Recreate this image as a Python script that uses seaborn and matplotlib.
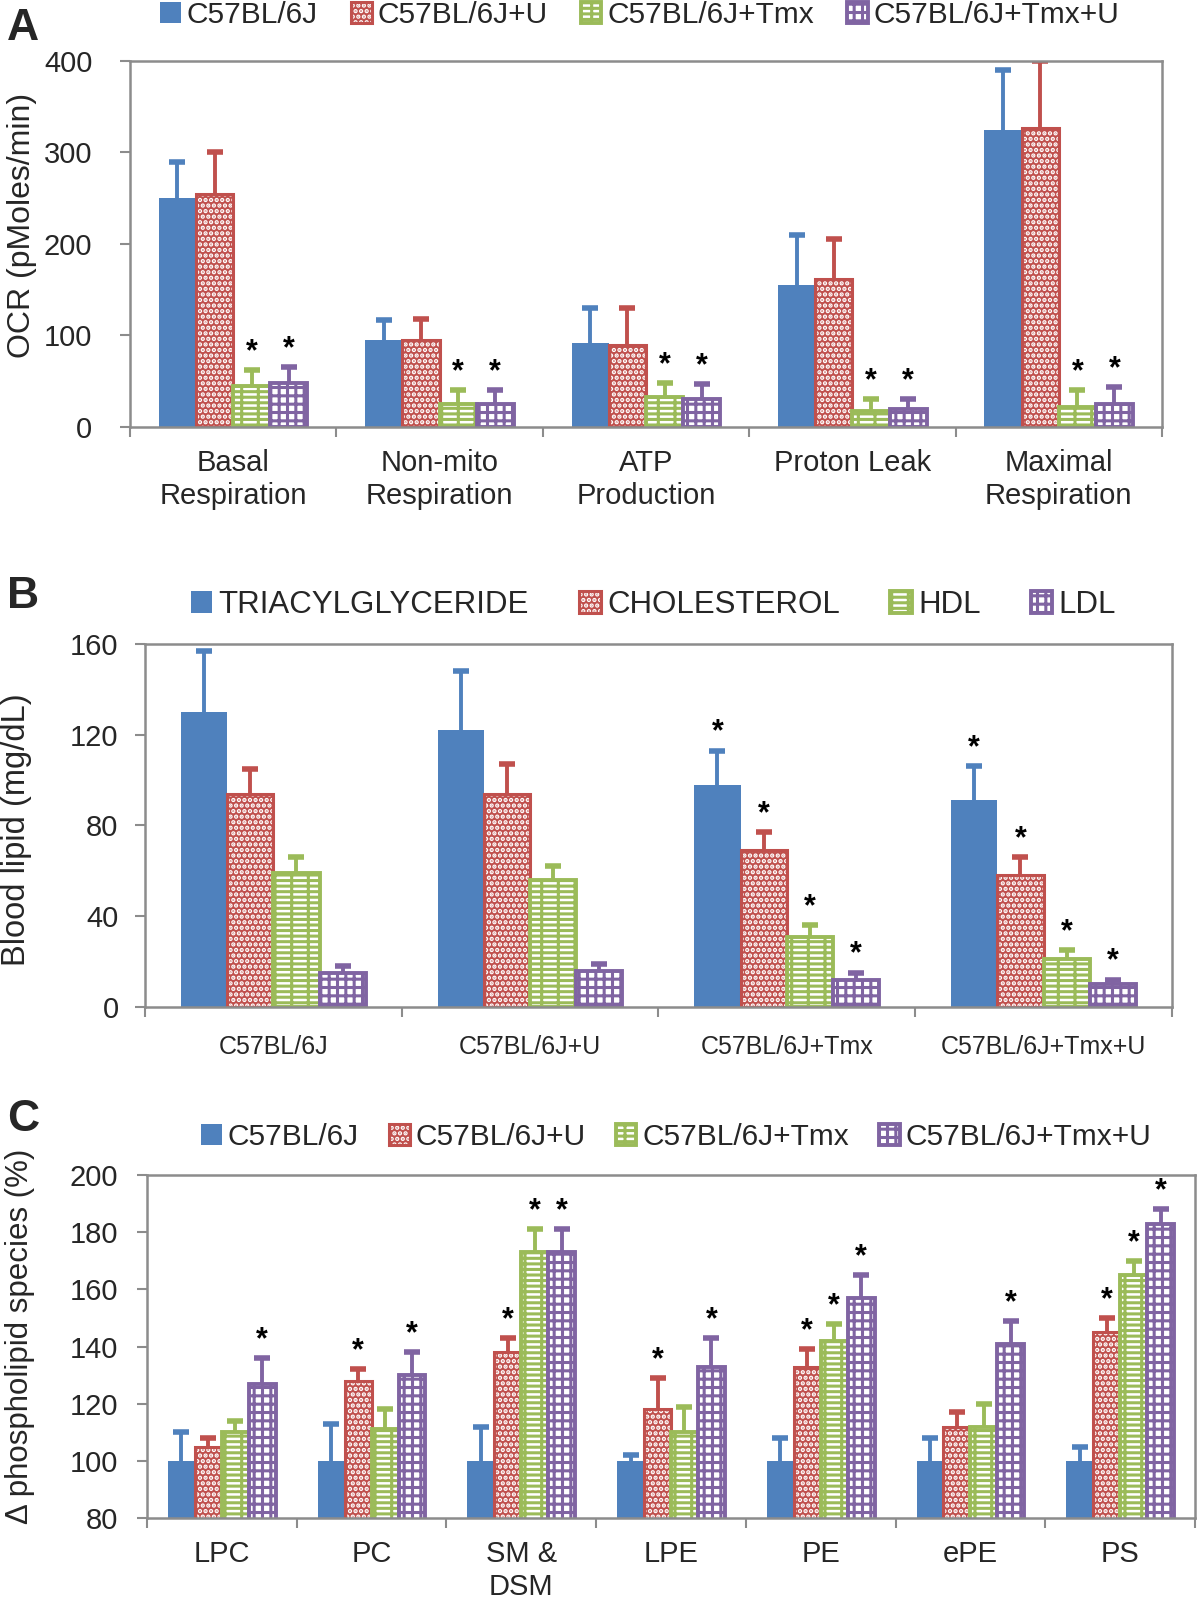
import numpy as np
import pandas as pd
import matplotlib
matplotlib.use('Agg')
import matplotlib.pyplot as plt
import matplotlib.colors as mcolors
from matplotlib.container import BarContainer
import seaborn as sns

sns.set_style('white')
plt.rcParams['font.family'] = ['Liberation Sans', 'DejaVu Sans']
plt.rcParams['hatch.linewidth'] = 2.2

# colours (Excel 2007 palette)
BLUE = '#4F81BD'
RED = '#C0504D'
GREEN = '#9BBB59'
PURPLE = '#8064A2'

groups = ['C57BL/6J', 'C57BL/6J+U', 'C57BL/6J+Tmx', 'C57BL/6J+Tmx+U']

# Panel A - OCR
a_cats = ['Basal\nRespiration', 'Non-mito\nRespiration', 'ATP\nProduction', 'Proton Leak', 'Maximal\nRespiration']
a_b6 = [250, 95, 92, 155, 325]
a_b6_sd = [40, 22, 38, 55, 65]
a_u = [255, 95, 90, 162, 327]
a_u_sd = [45, 23, 40, 43, 73]
a_tmx = [45, 25, 33, 17, 22]
a_tmx_sd = [17, 15, 15, 13, 18]
a_tmxu = [48, 25, 30, 20, 25]
a_tmxu_sd = [17, 15, 17, 11, 19]
a_sig = [[0, 0, 0, 0, 0], [0, 0, 0, 0, 0], [1, 1, 1, 1, 1], [1, 1, 1, 1, 1]]

# Panel B - blood lipids
lipids = ['TRIACYLGLYCERIDE', 'CHOLESTEROL', 'HDL', 'LDL']
b_tag = [130, 122, 98, 91]
b_tag_sd = [27, 26, 15, 15]
b_chol = [94, 94, 69, 58]
b_chol_sd = [11, 13, 8, 8]
b_hdl = [59, 56, 31, 21]
b_hdl_sd = [7, 6, 5, 4]
b_ldl = [15, 16, 12, 10]
b_ldl_sd = [3, 3, 3, 2]
b_sig = [[0, 0, 1, 1], [0, 0, 1, 1], [0, 0, 1, 1], [0, 0, 1, 1]]

# Panel C - phospholipid species
c_cats = ['LPC', 'PC', 'SM &\nDSM', 'LPE', 'PE', 'ePE', 'PS']
c_b6 = [100, 100, 100, 100, 100, 100, 100]
c_b6_sd = [10, 13, 12, 2, 8, 8, 5]
c_u = [105, 128, 138, 118, 133, 112, 145]
c_u_sd = [3, 4, 5, 11, 6, 5, 5]
c_tmx = [110, 111, 173, 110, 142, 112, 165]
c_tmx_sd = [4, 7, 8, 9, 6, 8, 5]
c_tmxu = [127, 130, 173, 133, 157, 141, 183]
c_tmxu_sd = [9, 8, 8, 10, 8, 8, 5]
c_sig = [[0, 0, 0, 0, 0, 0, 0], [0, 1, 1, 1, 1, 0, 1], [0, 0, 1, 0, 1, 0, 1], [1, 1, 1, 1, 1, 1, 1]]


def long_df(cats, series, names):
    rows = []
    for name, vals in zip(names, series):
        for c, v in zip(cats, vals):
            rows.append({'cat': c, 'series': name, 'val': v})
    return pd.DataFrame(rows)


def bars_of(ax):
    return [c for c in ax.containers if isinstance(c, BarContainer)]


def style_bars(ax):
    for j, cont in enumerate(bars_of(ax)):
        for p in cont.patches:
            if j == 0:
                p.set_facecolor(BLUE)
                p.set_edgecolor(BLUE)
                p.set_linewidth(0)
            elif j == 1:
                p.set_facecolor(RED)
                p.set_edgecolor(RED)
                p.set_linewidth(2.2)
                p.set_hatch('...')
                p._hatch_color = mcolors.to_rgba('white')
            elif j == 2:
                p.set_facecolor('white')
                p.set_edgecolor(GREEN)
                p.set_linewidth(2.8)
                p.set_hatch('---|')
            else:
                p.set_facecolor('white')
                p.set_edgecolor(PURPLE)
                p.set_linewidth(2.8)
                p.set_hatch('++')


def add_errors(ax, sds, sigs, star_pad):
    cols = [BLUE, RED, GREEN, PURPLE]
    for j, cont in enumerate(bars_of(ax)):
        for i, p in enumerate(cont.patches):
            x = p.get_x() + p.get_width() / 2
            h = p.get_height()
            _, caps, _ = ax.errorbar(x, h, yerr=[[0], [sds[j][i]]], fmt='none', ecolor=cols[j],
                                     elinewidth=2.8, capsize=6, capthick=4, zorder=1)
            caps[0].set_visible(False)
            if sigs[j][i]:
                ax.text(x, h + sds[j][i] + star_pad, '*', ha='center', va='bottom',
                        fontsize=22, fontweight='bold', color='black')


def frame(ax, ncat, ymin, ymax, step, ylabel, yl_fs, yl_xy, ypad, xpad, names, leg_xy,
          tick_fs=21, leg_gap=1.0, leg_fs=22):
    ax.set_ylim(ymin, ymax)
    ax.set_xlim(-0.5, ncat - 0.5)
    ax.set_yticks(np.arange(ymin, ymax + 1, step))
    ax.set_ylabel(ylabel, fontsize=yl_fs)
    ax.yaxis.set_label_coords(*yl_xy)
    ax.set_xlabel('')
    for s in ax.spines.values():
        s.set_color('#8c8c8c')
        s.set_linewidth(1.8)
    ax.tick_params(axis='y', labelsize=21, length=7, width=1.5, color='#8c8c8c', left=True,
                   direction='out', pad=ypad)
    ax.tick_params(axis='x', which='major', labelsize=tick_fs, length=0, pad=xpad)
    ax.set_xticks(np.arange(ncat + 1) - 0.5, minor=True)
    ax.tick_params(axis='x', which='minor', length=7, width=1.5, color='#8c8c8c', bottom=True, direction='out')
    handles = [c.patches[0] for c in bars_of(ax)]
    ax.legend(handles, names, loc='center', bbox_to_anchor=leg_xy, ncol=4,
              frameon=False, fontsize=leg_fs, handlelength=0.7, handleheight=0.7,
              handletextpad=0.2, columnspacing=leg_gap, borderaxespad=0)


fig = plt.figure(figsize=(12, 16.05), dpi=100)

# ---- A ----
axA = fig.add_axes([0.1083, 0.7340, 0.86, 0.2280])
dfA = long_df(a_cats, [a_b6, a_u, a_tmx, a_tmxu], groups)
sns.barplot(data=dfA, x='cat', y='val', hue='series', ax=axA, width=0.72, gap=0,
            errorbar=None, legend=False)
style_bars(axA)
add_errors(axA, [a_b6_sd, a_u_sd, a_tmx_sd, a_tmxu_sd], a_sig, 3)
frame(axA, 5, 0, 400, 100, 'OCR (pMoles/min)', 23, (-0.09, 0.55), 20, 16,
      groups, (0.494, 1.126), leg_fs=21.5, leg_gap=1.1)

# ---- B ----
axB = fig.add_axes([0.1208, 0.3726, 0.8558, 0.2262])
dfB = long_df(groups, [b_tag, b_chol, b_hdl, b_ldl], lipids)
sns.barplot(data=dfB, x='cat', y='val', hue='series', ax=axB, width=0.72, gap=0,
            errorbar=None, legend=False)
style_bars(axB)
add_errors(axB, [b_tag_sd, b_chol_sd, b_hdl_sd, b_ldl_sd], b_sig, 1.5)
frame(axB, 4, 0, 160, 40, 'Blood lipid (mg/dL)', 23.5, (-0.11, 0.488), 12, 20,
      lipids, (0.495, 1.107), tick_fs=18, leg_gap=1.6, leg_fs=22.5)

# ---- C ----
axC = fig.add_axes([0.1225, 0.0542, 0.8733, 0.2137])
dfC = long_df(c_cats, [c_b6, c_u, c_tmx, c_tmxu], groups)
sns.barplot(data=dfC, x='cat', y='val', hue='series', ax=axC, width=0.72, gap=0,
            errorbar=None, legend=False)
style_bars(axC)
add_errors(axC, [c_b6_sd, c_u_sd, c_tmx_sd, c_tmxu_sd], c_sig, 1)
frame(axC, 7, 80, 200, 20, '\u0394 phospholipid species (%)', 22.5, (-0.107, 0.53), 14, 16,
      groups, (0.505, 1.111), leg_fs=21.5, leg_gap=1.0)

for lbl, y in [('A', 0.995), ('B', 0.641), ('C', 0.315)]:
    fig.text(0.006, y, lbl, fontsize=32, fontweight='bold', va='top', ha='left')

fig.savefig('out.png', dpi=100)
